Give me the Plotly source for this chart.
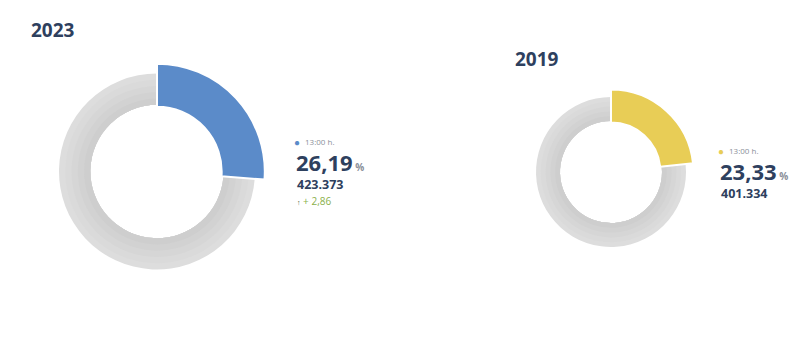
import plotly.graph_objects as go

W, H = 800, 338

years = ["2023", "2019"]
hour_label = "13:00 h."
shares = [26.19, 23.33]
share_labels = ["26,19", "23,33"]
counts = ["423.373", "401.334"]
change_label = "+ 2,86"
colors = ["#5b8bc9", "#e8cd56"]

NAVY = "#2e405e"
FONT = "Open Sans"
# ring shades from outer edge to inner edge (soft inner shadow)
RING_SHADES = ["#dddddd", "#dadada", "#d6d6d6", "#d2d2d2", "#cecece"]

# donut geometry in pixels: centre x, centre y (from top), ring radius
donuts = [(157, 171.5, 98), (611, 172, 75)]
RING_HOLE = 0.68


def dom(cx, cy, r):
    yb = H - cy
    return dict(x=[(cx - r) / W, (cx + r) / W], y=[(yb - r) / H, (yb + r) / H])


fig = go.Figure()
for i, (cx, cy, r) in enumerate(donuts):
    rest = 100 - shares[i]
    r_in = r * RING_HOLE
    n = len(RING_SHADES)
    # background ring built from concentric bands
    for k, shade in enumerate(RING_SHADES):
        rk = r - (r - r_in) * k / n
        fig.add_trace(go.Pie(
            values=[shares[i], rest], sort=False, direction="clockwise", rotation=0,
            hole=r_in / rk, domain=dom(cx, cy, rk), textinfo="none", hoverinfo="skip",
            marker=dict(colors=[shade, shade], line=dict(width=0)), showlegend=False,
        ))
    # highlighted share, drawn slightly larger
    fig.add_trace(go.Pie(
        values=[shares[i], rest], sort=False, direction="clockwise", rotation=0,
        hole=0.6, domain=dom(cx, cy, r * 1.1), textinfo="none",
        marker=dict(colors=[colors[i], "rgba(0,0,0,0)"],
                    line=dict(color=["white", "rgba(0,0,0,0)"], width=[2, 0])),
        showlegend=False,
    ))

ann = []


def txt(x, y, text, size, color, bold=False, xanchor="left"):
    ann.append(dict(
        x=x / W, y=1 - y / H, xref="paper", yref="paper", showarrow=False,
        xanchor=xanchor, yanchor="middle",
        text=f"<b>{text}</b>" if bold else text,
        font=dict(family=FONT, size=size, color=color),
    ))


# titles
txt(29, 30, years[0], 19, NAVY, bold=True)
txt(513, 59, years[1], 19, NAVY, bold=True)

# side labels
labels = [(295, 142, True), (719, 151, False)]
for i, (lx, ly, with_change) in enumerate(labels):
    txt(lx - 3, ly, "●", 10, colors[i])
    txt(lx + 8, ly, hour_label, 8, "#8a8f99")
    txt(lx - 1, ly + 20, share_labels[i] + "<span style='font-size:10px;color:#8a8f99'> %</span>",
        22, NAVY, bold=True)
    txt(lx, ly + 42, counts[i], 12.5, NAVY, bold=True)
    if with_change:
        txt(lx, ly + 59, "<span style='font-size:7px;color:#3d5a2a'>↑</span> " + change_label,
            10, "#8ab04a")

fig.update_layout(
    width=W, height=H, margin=dict(l=0, r=0, t=0, b=0),
    paper_bgcolor="white", plot_bgcolor="white",
    annotations=ann,
)

fig.write_html("out.html")
